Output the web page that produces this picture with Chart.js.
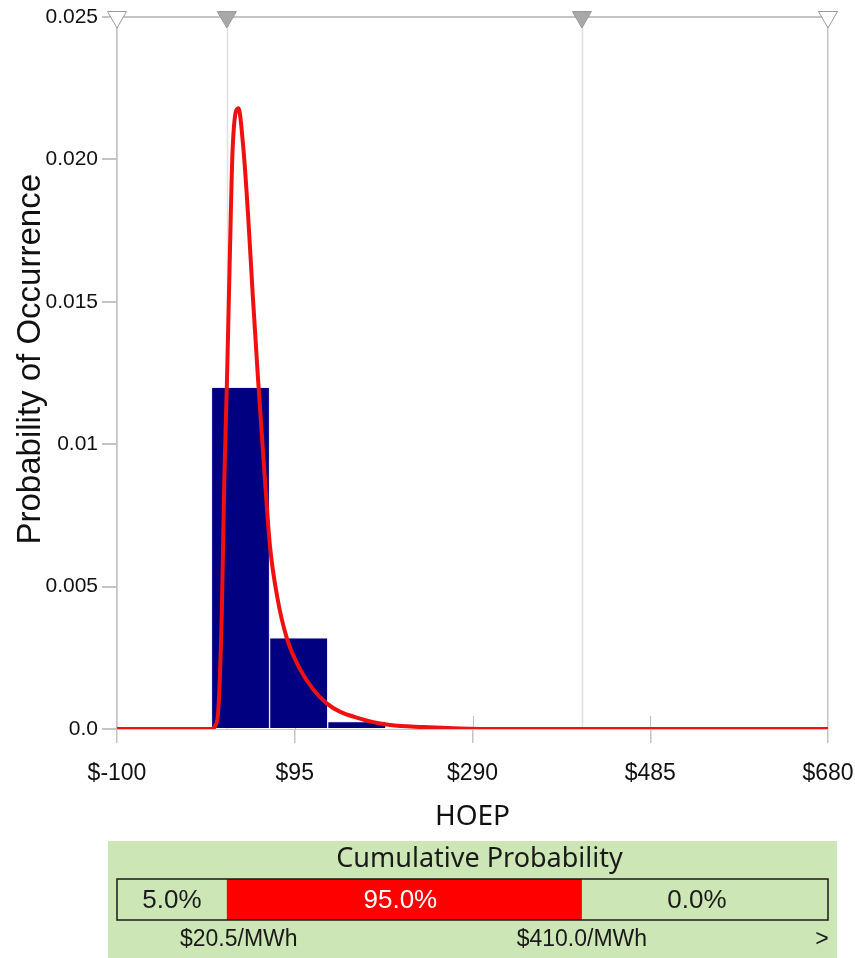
<!DOCTYPE html>
<html>
<head>
<meta charset="utf-8">
<title>HOEP probability</title>
<script src="https://cdn.jsdelivr.net/npm/chart.js@4.4.1/dist/chart.umd.min.js"></script>
<style>
  html, body { margin: 0; padding: 0; background: #fff; }
  #wrap { width: 855px; height: 958px; }
</style>
</head>
<body>
<div id="wrap"><canvas id="chart"></canvas></div>
<script>
// axis ticks
const xTickValues = [-100, 95, 290, 485, 680];
const xTickLabels = ['$-100', '$95', '$290', '$485', '$680'];
const yTickValues = [0, 0.005, 0.01, 0.015, 0.02, 0.025];
const yTickLabels = ['0.0', '0.005', '0.01', '0.015', '0.020', '0.025'];

// histogram bins (centre of bin, probability)
const binCenters = [35.5, 99.25, 163];
const binProbs = [0.0120, 0.0032, 0.00026];

// fitted distribution curve
const curveX = [-100, 4, 7.5, 11, 15, 17.7, 20.7, 24, 26.9, 33.1, 38.6, 43.7, 49, 54.7, 62.4, 67.9, 76, 86.2, 100.8, 115, 130, 145, 163, 180, 199.5, 235.7, 276, 320, 680];
const curveY = [0, 0, 0.0001, 0.0006, 0.0041, 0.0087, 0.0123, 0.0169, 0.0204, 0.0218, 0.0204, 0.0181, 0.0152, 0.0123, 0.0087, 0.0064, 0.0046, 0.0032, 0.0021, 0.0014, 0.0009, 0.0006, 0.0004, 0.00025, 0.00014, 0.00007, 0.00002, 0, 0];

// certainty grabbers on the top edge
const markerX = [-100, 20.5, 410, 680];
const markerFill = ['#ffffff', '#a8a8a8', '#a8a8a8', '#ffffff'];

// cumulative probability strip
const cumLabels = ['5.0%', '95.0%', '0.0%'];
const cumBounds = [20.5, 410.0];
const boundLabels = ['$20.5/MWh', '$410.0/MWh'];

const SANS = "'Liberation Sans', Arial, sans-serif";
const MYRIAD = "'Noto Sans', 'Open Sans', sans-serif";

const decor = {
    id: 'decor',
    beforeDatasetsDraw(chart) {
        const { ctx, chartArea: a, scales: { x } } = chart;
        ctx.save();
        ctx.strokeStyle = '#e0e0e0';
        ctx.lineWidth = 1.5;
        cumBounds.forEach(v => {
            const px = Math.round(x.getPixelForValue(v)) + 0.5;
            ctx.beginPath();
            ctx.moveTo(px, a.top);
            ctx.lineTo(px, a.bottom);
            ctx.stroke();
        });
        // short tick marks inside the plot
        ctx.strokeStyle = '#bdbdbd';
        ctx.lineWidth = 1;
        xTickValues.slice(1, -1).forEach(v => {
            const px = Math.round(x.getPixelForValue(v)) + 0.5;
            ctx.beginPath();
            ctx.moveTo(px, a.bottom - 13);
            ctx.lineTo(px, a.bottom);
            ctx.stroke();
        });
        ctx.restore();
    },
    afterDraw(chart) {
        const { ctx, scales: { x } } = chart;
        const left = x.getPixelForValue(xTickValues[0]);
        const right = x.getPixelForValue(xTickValues[xTickValues.length - 1]);
        const b1 = x.getPixelForValue(cumBounds[0]);
        const b2 = x.getPixelForValue(cumBounds[1]);
        const top = 879, h = 41;
        ctx.save();
        ctx.fillStyle = '#cde6b6';
        ctx.fillRect(left - 9, 841, right - left + 18, 958 - 841);

        ctx.fillStyle = '#1a1a1a';
        ctx.textAlign = 'center';
        ctx.textBaseline = 'middle';
        ctx.font = '27px ' + MYRIAD;
        ctx.fillText('Cumulative Probability', (left + right) / 2 + 7, 859);

        ctx.fillStyle = '#ff0000';
        ctx.fillRect(b1, top, b2 - b1, h);
        ctx.strokeStyle = '#1a1a1a';
        ctx.lineWidth = 1.5;
        ctx.strokeRect(left, top, right - left, h);

        ctx.font = '26px ' + SANS;
        const edges = [left, b1, b2, right];
        cumLabels.forEach((t, i) => {
            ctx.fillStyle = i === 1 ? '#ffffff' : '#1a1a1a';
            ctx.fillText(t, (edges[i] + edges[i + 1]) / 2 - 4 * i, top + h / 2 + 1);
        });

        ctx.fillStyle = '#1a1a1a';
        ctx.font = '23px ' + SANS;
        boundLabels.forEach((t, i) => {
            const w = ctx.measureText(t).width;
            const cx = Math.max(x.getPixelForValue(cumBounds[i]), left + 63 + w / 2);
            ctx.fillText(t, cx, 940);
        });
        ctx.fillText('>', right - 6, 940);
        ctx.restore();
    }
};

const lightGrey = '#c4c4c4';

new Chart(document.getElementById('chart'), {
    type: 'bar',
    data: {
        datasets: [
            {
                type: 'scatter',
                data: markerX.map(v => ({ x: v, y: yTickValues[yTickValues.length - 1] })),
                pointStyle: 'triangle',
                rotation: 180,
                radius: 11,
                backgroundColor: markerFill,
                borderColor: '#999999',
                borderWidth: 1,
                clip: false,
                order: 1
            },
            {
                type: 'line',
                data: curveX.map((v, i) => ({ x: v, y: curveY[i] })),
                borderColor: '#f01010',
                borderWidth: 4,
                pointRadius: 0,
                cubicInterpolationMode: 'monotone',
                fill: false,
                order: 2
            },
            {
                type: 'bar',
                data: binCenters.map((v, i) => ({ x: v, y: binProbs[i] })),
                backgroundColor: '#000080',
                borderColor: '#e8ecf8',
                borderWidth: 1,
                barPercentage: 1,
                categoryPercentage: 1,
                order: 3
            }
        ]
    },
    options: {
        responsive: true,
        maintainAspectRatio: false,
        animation: false,
        layout: { padding: { left: 0, top: 17, right: 27, bottom: 127 } },
        plugins: { legend: { display: false }, tooltip: { enabled: false } },
        scales: {
            x: {
                type: 'linear',
                offset: false,
                min: -100,
                max: 680,
                afterBuildTicks: s => { s.ticks = xTickValues.map(v => ({ value: v })); },
                afterFit: s => { s.height = 102; s.paddingLeft = 0; s.paddingRight = 0; },
                ticks: {
                    callback: (v, i) => xTickLabels[i],
                    font: { family: SANS, size: 23 },
                    color: '#111',
                    padding: 17,
                    maxRotation: 0
                },
                grid: {
                    offset: false,
                    color: c => (c.tick && (c.tick.value === -100 || c.tick.value === 680)) ? lightGrey : 'rgba(0,0,0,0)',
                    tickColor: lightGrey,
                    tickLength: 14,
                    lineWidth: 1.5
                },
                border: { display: true, color: lightGrey },
                title: {
                    display: true,
                    text: 'HOEP',
                    font: { family: MYRIAD, size: 28, lineHeight: 1 },
                    color: '#111',
                    padding: { top: 0, bottom: 0 }
                }
            },
            y: {
                min: 0,
                max: 0.025,
                afterBuildTicks: s => { s.ticks = yTickValues.map(v => ({ value: v })); },
                afterFit: s => { s.width = 117; s.paddingTop = 0; s.paddingBottom = 0; },
                ticks: {
                    callback: (v, i) => yTickLabels[i],
                    font: { family: SANS, size: 21 },
                    color: '#111',
                    padding: 4
                },
                grid: {
                    color: c => (c.tick && c.tick.value === 0.025) ? lightGrey : 'rgba(0,0,0,0)',
                    tickColor: lightGrey,
                    tickLength: 15,
                    lineWidth: 2
                },
                border: { display: true, color: lightGrey, width: 1.5 },
                title: {
                    display: true,
                    text: '   Probability of Occurrence',
                    font: { family: SANS, size: 33, lineHeight: 1 },
                    color: '#111',
                    padding: { top: 14, bottom: 0 }
                }
            }
        }
    },
    plugins: [decor]
});
</script>
</body>
</html>
